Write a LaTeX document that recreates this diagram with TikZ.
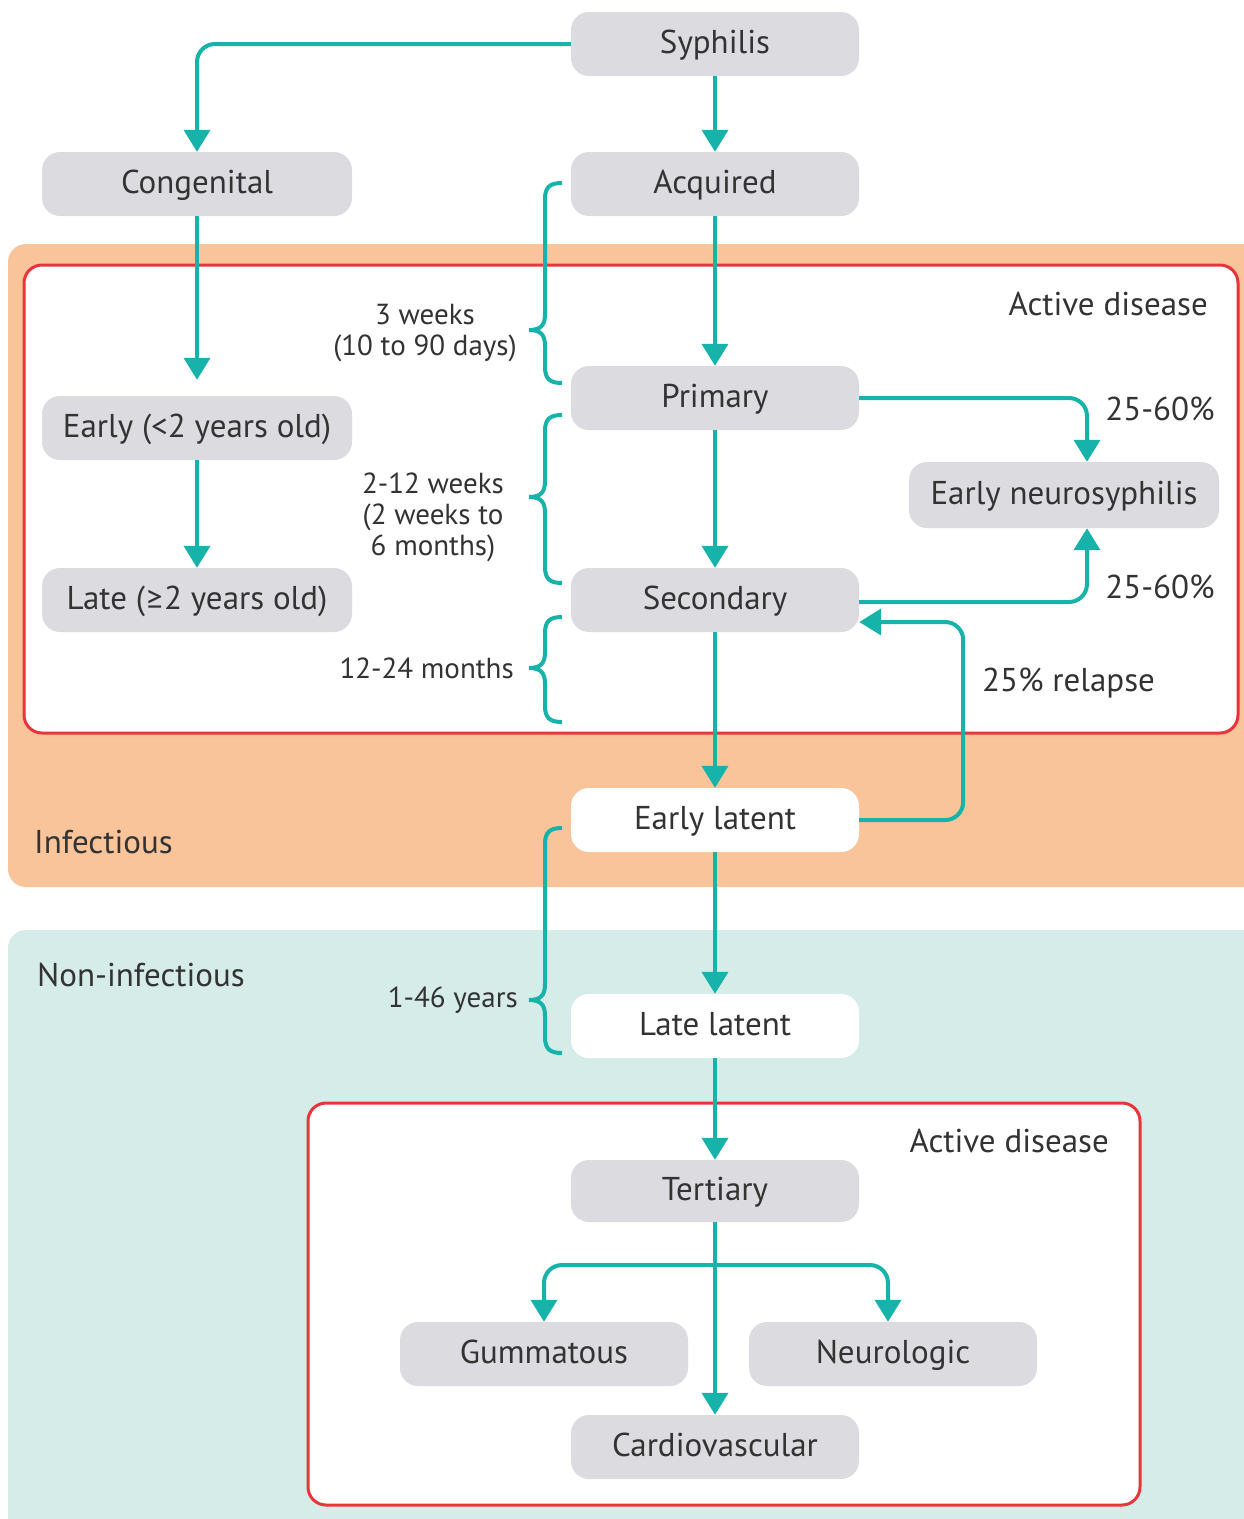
\documentclass[tikz,border=0pt]{standalone}
\usepackage{fontspec}
\setmainfont{PT Sans}
\newfontfamily\symfont{Lato}
\usetikzlibrary{arrows.meta}
\definecolor{tealc}{HTML}{17B3AA}
\definecolor{boxgray}{HTML}{DCDCE0}
\definecolor{orangebg}{HTML}{F9C49A}
\definecolor{tealbg}{HTML}{D6ECE8}
\definecolor{redline}{HTML}{E8343A}
\definecolor{txt}{HTML}{333333}
\newcommand\bracepath[3]{%
  (562,#1) .. controls (550,#1) and (545,#1+4) .. (545,#1+16)
  -- (545,#2-16) .. controls (545,#2-5) and (541,#2) .. (529,#2)
  .. controls (541,#2) and (545,#2+5) .. (545,#2+16)
  -- (545,#3-16) .. controls (545,#3-4) and (550,#3) .. (562,#3)}
\begin{document}
\begin{tikzpicture}[x=1pt,y=-1pt,
  box/.style={rounded corners=18pt, fill=boxgray, minimum width=288pt, minimum height=64pt, inner sep=0pt, text=txt, text height=18pt, text depth=0pt, font=\fontsize{33}{38}\selectfont},
  wbox/.style={box, fill=white},
  arr/.style={draw=tealc, line width=4pt, rounded corners=18pt, -{Triangle[width=26pt,length=22pt]}},
  brc/.style={draw=tealc, line width=4pt},
  lbl/.style={text=txt, inner sep=0pt, font=\fontsize{33}{38}\selectfont},
  slbl/.style={text=txt, inner sep=0pt, align=center, font=\fontsize{29}{31}\selectfont}]
\useasboundingbox (0,0) rectangle (1244,1519);
\begin{scope}
\clip (0,0) rectangle (1244,1519);
\fill[orangebg, rounded corners=18pt] (8,244) rectangle (1280,887);
\fill[tealbg, rounded corners=18pt] (8,930) rectangle (1280,1560);
\end{scope}
\draw[redline, line width=3pt, fill=white, rounded corners=18pt] (24,265) rectangle (1238,733);
\draw[redline, line width=3pt, fill=white, rounded corners=18pt] (308,1103) rectangle (1140,1505);

\node[box] (syph) at (715,44) {Syphilis};
\node[box, minimum width=310pt] (cong) at (197,184) {Congenital};
\node[box] (acq) at (715,184) {Acquired};
\node[box] (prim) at (715,398) {Primary};
\node[box, minimum width=310pt] (early) at (197,428) {Early (<2 years old)};
\node[box, minimum width=310pt, minimum height=66pt] (eneuro) at (1064,495) {Early neurosyphilis};
\node[box] (sec) at (715,600) {Secondary};
\node[box, minimum width=310pt] (late) at (197,600) {Late ({\symfont ≥}2 years old)};
\node[wbox] (elat) at (715,820) {Early latent};
\node[wbox] (llat) at (715,1026) {Late latent};
\node[box, minimum height=62pt] (tert) at (715,1191) {Tertiary};
\node[box] (gum) at (544,1354) {Gummatous};
\node[box] (neuro) at (893,1354) {Neurologic};
\node[box] (card) at (715,1447) {Cardiovascular};

\draw[arr] (syph.west) -| (cong.north);
\draw[arr] (syph) -- (acq);
\draw[arr, shorten >=16pt] (cong) -- (early);
\draw[arr] (early) -- (late);
\draw[arr] (acq) -- (prim);
\draw[arr] (prim) -- (sec);
\draw[arr] (prim.east) -| ([xshift=23pt]eneuro.north);
\draw[arr] ([yshift=-2pt]sec.east) -| ([xshift=23pt]eneuro.south);
\draw[arr] (elat.east) -| ([xshift=104pt,yshift=-22pt]sec.east) -- ([yshift=-22pt]sec.east);
\draw[arr] (sec) -- (elat);
\draw[arr] (elat) -- (llat);
\draw[arr] (llat) -- (tert);
\draw[arr] (tert) -- (card);
\coordinate (br) at (715,1265);
\draw[arr] (br) -| (gum.north);
\draw[arr] (br) -| ([xshift=-5pt]neuro.north);

\draw[brc] \bracepath{183}{330}{383};
\draw[brc] \bracepath{415}{497}{583};
\draw[brc] \bracepath{617}{668}{722};
\draw[brc] \bracepath{828}{1000}{1053};

\node[slbl] (l1) at (425,333) {3 weeks\\(10 to 90 days)};
\node[slbl] (l2) at (433,517) {2-12 weeks\\(2 weeks to\\6 months)};
\node[slbl, anchor=east] (l3) at (514,668) {12-24 months};
\node[slbl, anchor=east] (l4) at (518,1000) {1-46 years};

\node[lbl, anchor=east] (ad1) at (1208,304) {Active disease};
\node[lbl] (p1) at (1160,409) {25-60\%};
\node[lbl] (p2) at (1160,587) {25-60\%};
\node[lbl, anchor=west] (rel) at (982,683) {25\% relapse};
\node[lbl, anchor=west] (inf) at (34,842) {Infectious};
\node[lbl, anchor=west] (ninf) at (37,975) {Non-infectious};
\node[lbl, anchor=east] (ad2) at (1109,1141) {Active disease};
\end{tikzpicture}
\end{document}
